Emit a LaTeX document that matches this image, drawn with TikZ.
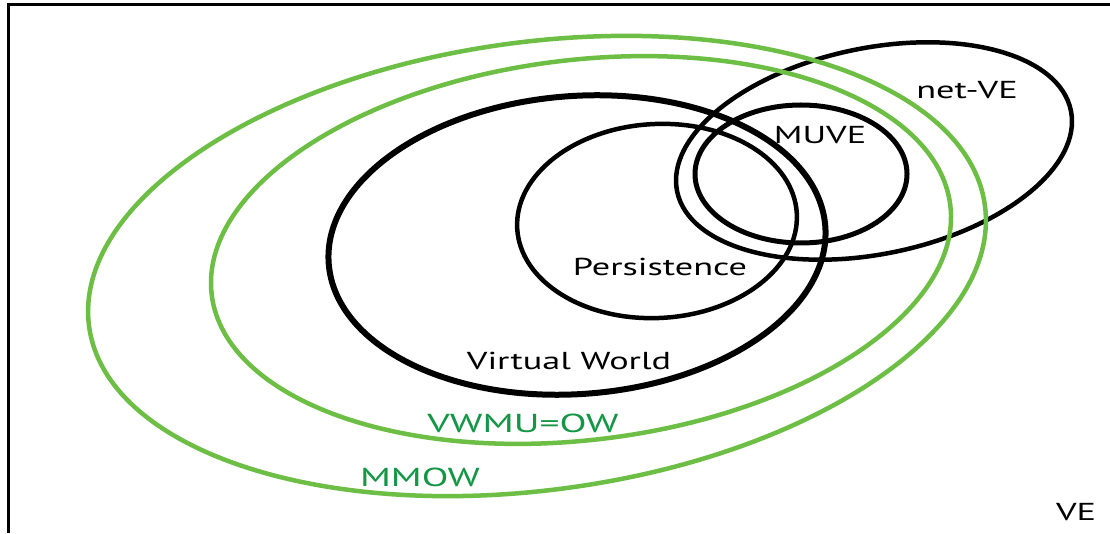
\documentclass[tikz,border=0pt]{standalone}
\usepackage{fontspec}
\setmainfont{PT Sans}
\definecolor{lgreen}{RGB}{108,190,69}
\definecolor{dgreen}{RGB}{20,150,70}
\newcommand{\wide}[1]{\scalebox{1.48}[1]{#1}}
\begin{document}
\begin{tikzpicture}[x=1pt,y=1pt,
  blk/.style={draw=black,line width=5pt},
  grn/.style={draw=lgreen,line width=4.5pt},
  frm/.style={draw=black,line width=3pt},
  lbl/.style={inner sep=0pt,font=\fontsize{24.5}{28}\selectfont},
  glbl/.style={inner sep=0pt,text=dgreen,font=\fontsize{26}{30}\selectfont}]
\useasboundingbox (0,0) rectangle (1110,533);
\draw[frm] (8,0) -- (8,528) -- (1110,528);
% black sets
\draw[blk,line width=6pt,rotate around={4.3:(577,288)}] (577,288) ellipse [x radius=249, y radius=149];
\draw[blk,line width=4.5pt,rotate around={3:(657,312)}] (657,312) ellipse [x radius=140, y radius=97];
\draw[blk] (801,359) ellipse [x radius=106, y radius=69];
\draw[blk,line width=4.5pt,rotate around={11.6:(874,382)}] (874,382) ellipse [x radius=201, y radius=103];
% green sets
\draw[grn,rotate around={6.9:(581,283)}] (581,283) ellipse [x radius=372, y radius=190];
\draw[grn,rotate around={7.7:(537,267)}] (537,267) ellipse [x radius=452, y radius=224];
% labels
\node[lbl] (netve) at (967,443) {\wide{net-VE}};
\node[lbl] (muve) at (820,398) {\wide{MUVE}};
\node[lbl] (pers) at (660,266) {\wide{Persistence}};
\node[lbl] (vw) at (569,172) {\wide{Virtual World}};
\node[glbl] (vwmu) at (523,110) {\scalebox{1.52}[1]{VWMU=OW}};
\node[glbl] (mmow) at (420,56) {\scalebox{1.5}[1]{MMOW}};
\node[lbl] (ve) at (1076,21) {\wide{VE}};
\end{tikzpicture}
\end{document}
